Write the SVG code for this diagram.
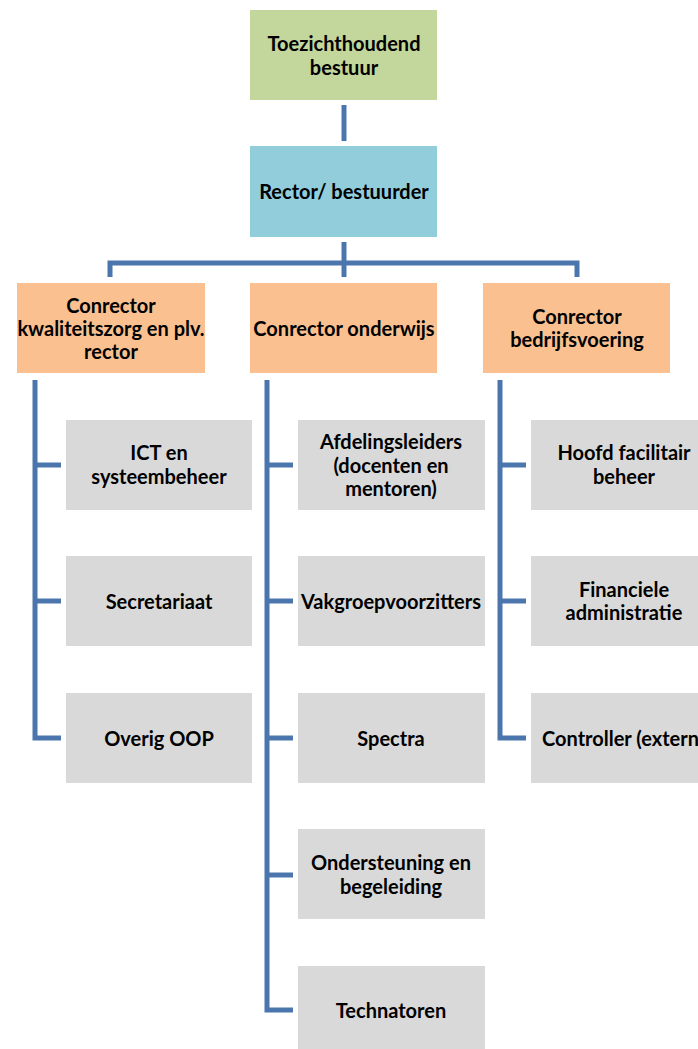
<svg xmlns="http://www.w3.org/2000/svg" width="698" height="1049" viewBox="0 0 698 1049">
<style>
text{font-family:Lato,"Open Sans","Liberation Sans",sans-serif;font-weight:bold;font-size:20px;fill:#000;text-anchor:middle;dominant-baseline:central}
.g{fill:#D9D9D9}
.o{fill:#FAC090}
.c{fill:none;stroke:#4A76AD;stroke-width:5;stroke-linejoin:miter}
</style>
<rect width="698" height="1049" fill="#fff"/>
<g id="connectors">
<line class="c" x1="344" y1="105" x2="344" y2="141"/>
<polyline class="c" points="110,277 110,263 577,263 577,277"/>
<line class="c" x1="344" y1="242" x2="344" y2="277"/>
<polyline class="c" points="35,380 35,738 61,738"/>
<line class="c" x1="35" y1="465" x2="61" y2="465"/>
<line class="c" x1="35" y1="601" x2="61" y2="601"/>
<polyline class="c" points="267,380 267,1010 293,1010"/>
<line class="c" x1="267" y1="465" x2="293" y2="465"/>
<line class="c" x1="267" y1="601" x2="293" y2="601"/>
<line class="c" x1="267" y1="738" x2="293" y2="738"/>
<line class="c" x1="267" y1="875" x2="293" y2="875"/>
<polyline class="c" points="500,380 500,738 526,738"/>
<line class="c" x1="500" y1="465" x2="526" y2="465"/>
<line class="c" x1="500" y1="601" x2="526" y2="601"/>
</g>
<g id="toezicht"><rect x="250" y="10" width="187" height="90" fill="#C3D69B"/><text x="344" y="43">Toezichthoudend</text><text x="344" y="67">bestuur</text></g>
<g id="rector"><rect x="250" y="146" width="187" height="91" fill="#92CDDC"/><text x="344" y="191">Rector/ bestuurder</text></g>
<g id="conrector-kz"><rect class="o" x="17" y="283" width="188" height="90"/><text x="111" y="305">Conrector</text><text x="111" y="328">kwaliteitszorg en plv.</text><text x="111" y="351">rector</text></g>
<g id="conrector-ow"><rect class="o" x="250" y="283" width="187" height="90"/><text x="344" y="328">Conrector onderwijs</text></g>
<g id="conrector-bv"><rect class="o" x="483" y="283" width="187" height="90"/><text x="577" y="316">Conrector</text><text x="577" y="339">bedrijfsvoering</text></g>
<g id="ict"><rect class="g" x="66" y="420" width="186" height="90"/><text x="159" y="452">ICT en</text><text x="159" y="476">systeembeheer</text></g>
<g id="secretariaat"><rect class="g" x="66" y="556" width="186" height="90"/><text x="159" y="601">Secretariaat</text></g>
<g id="oop"><rect class="g" x="66" y="693" width="186" height="90"/><text x="159" y="738">Overig OOP</text></g>
<g id="afdelingsleiders"><rect class="g" x="298" y="420" width="187" height="90"/><text x="391" y="441">Afdelingsleiders</text><text x="391" y="465">(docenten en</text><text x="391" y="488">mentoren)</text></g>
<g id="vakgroep"><rect class="g" x="298" y="556" width="187" height="90"/><text x="391" y="601">Vakgroepvoorzitters</text></g>
<g id="spectra"><rect class="g" x="298" y="693" width="187" height="90"/><text x="391" y="738">Spectra</text></g>
<g id="ondersteuning"><rect class="g" x="298" y="829" width="187" height="90"/><text x="391" y="862">Ondersteuning en</text><text x="391" y="886">begeleiding</text></g>
<g id="technatoren"><rect class="g" x="298" y="966" width="187" height="90"/><text x="391" y="1010">Technatoren</text></g>
<g id="facilitair"><rect class="g" x="531" y="420" width="187" height="90"/><text x="624" y="452">Hoofd facilitair</text><text x="624" y="476">beheer</text></g>
<g id="financieel"><rect class="g" x="531" y="556" width="187" height="90"/><text x="624" y="589">Financiele</text><text x="624" y="612">administratie</text></g>
<g id="controller"><rect class="g" x="531" y="693" width="187" height="90"/><text x="542" y="738" style="text-anchor:start">Controller (extern)</text></g>
</svg>
